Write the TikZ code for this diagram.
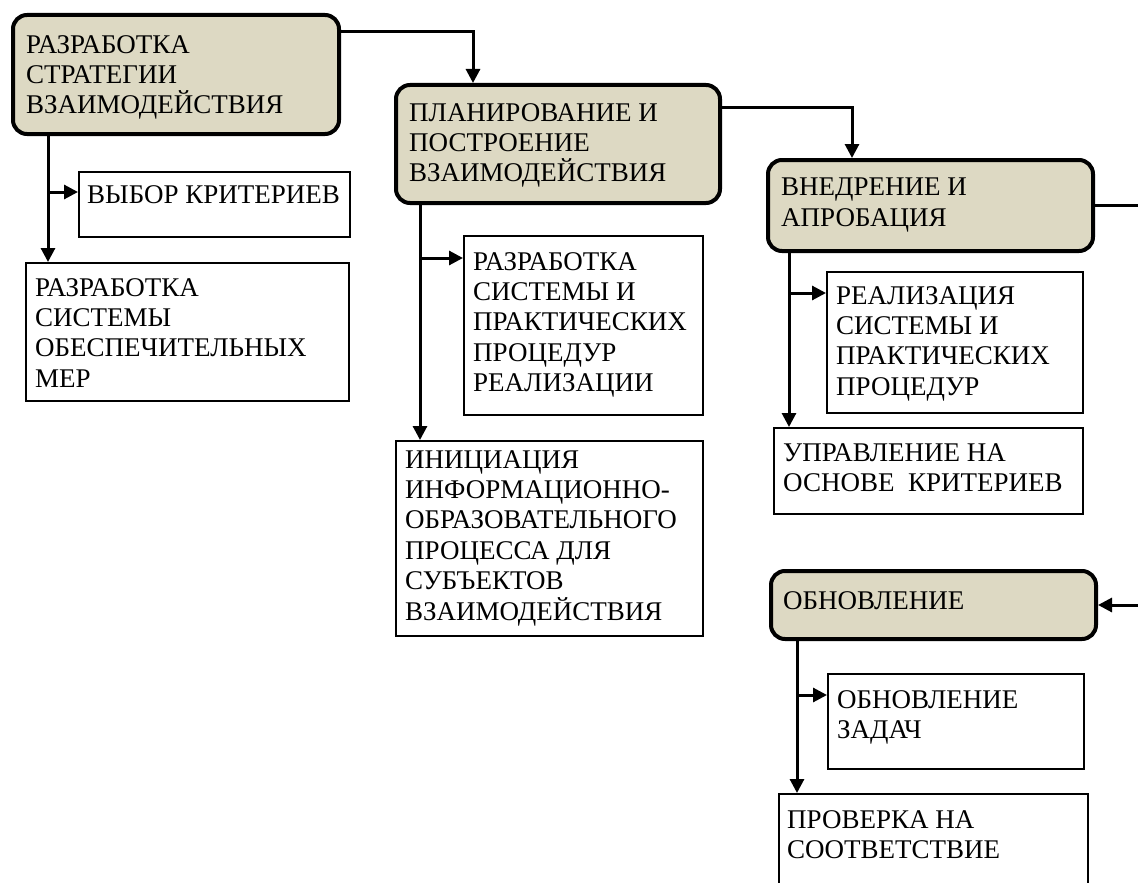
\documentclass[tikz,border=0pt]{standalone}
\usepackage{fontspec}
\setmainfont{Liberation Serif}
\usetikzlibrary{arrows.meta}
\definecolor{stagefill}{HTML}{DDD9C3}
\tikzset{
  stage/.style={draw=black, fill=stagefill, line width=4pt, rounded corners=14pt, inner sep=0pt, anchor=north west},
  task/.style={draw=black, fill=white, line width=1.8pt, inner sep=0pt, anchor=north west},
  txt/.style={anchor=north west, inner sep=0pt, align=left, font=\fontsize{27}{30.4}\selectfont},
  conn/.style={line width=3pt, -{Triangle[length=14pt,width=14pt]}},
  plain/.style={line width=3pt}
}
\begin{document}
\begin{tikzpicture}[x=1pt,y=-1pt]
\useasboundingbox (0,0) rectangle (1138,883);
% stage boxes
\node[stage, minimum width=326pt, minimum height=119pt] (b1) at (11,13) {};
\node[stage, minimum width=324pt, minimum height=118pt] (b2) at (394,83) {};
\node[stage, minimum width=325pt, minimum height=91pt] (b3) at (766,158) {};
\node[stage, minimum width=325pt, minimum height=68pt] (b4) at (769,569) {};
% task boxes
\node[task, minimum width=271pt, minimum height=65pt] (vybor) at (78,171) {};
\node[task, minimum width=323pt, minimum height=138pt] (obesp) at (25,262) {};
\node[task, minimum width=239pt, minimum height=179pt] (razr) at (463,235) {};
\node[task, minimum width=307pt, minimum height=195pt] (inic) at (395,440) {};
\node[task, minimum width=256pt, minimum height=141pt] (realiz) at (826,271) {};
\node[task, minimum width=309pt, minimum height=86pt] (uprav) at (773,427) {};
\node[task, minimum width=256pt, minimum height=95pt] (zadach) at (827,673) {};
\node[task, minimum width=309pt, minimum height=96pt] (prov) at (778,793) {};
% texts
\node[txt] (b1t) at (26,35) {РАЗРАБОТКА\\СТРАТЕГИИ\\ВЗАИМОДЕЙСТВИЯ};
\node[txt] (b2t) at (409,103) {ПЛАНИРОВАНИЕ И\\ПОСТРОЕНИЕ\\ВЗАИМОДЕЙСТВИЯ};
\node[txt] (b3t) at (781,178) {ВНЕДРЕНИЕ И\\АПРОБАЦИЯ};
\node[txt] (b4t) at (783,591) {ОБНОВЛЕНИЕ};
\node[txt] (vybort) at (87,185) {ВЫБОР КРИТЕРИЕВ};
\node[txt] (obespt) at (35,278) {РАЗРАБОТКА\\СИСТЕМЫ\\ОБЕСПЕЧИТЕЛЬНЫХ\\МЕР};
\node[txt] (razrt) at (473,252) {РАЗРАБОТКА\\СИСТЕМЫ И\\ПРАКТИЧЕСКИХ\\ПРОЦЕДУР\\РЕАЛИЗАЦИИ};
\node[txt] (inict) at (405,450) {ИНИЦИАЦИЯ\\ИНФОРМАЦИОННО-\\ОБРАЗОВАТЕЛЬНОГО\\ПРОЦЕССА ДЛЯ\\СУБЪЕКТОВ\\ВЗАИМОДЕЙСТВИЯ};
\node[txt] (realizt) at (836,286) {РЕАЛИЗАЦИЯ\\СИСТЕМЫ И\\ПРАКТИЧЕСКИХ\\ПРОЦЕДУР};
\node[txt] (upravt) at (783,443) {УПРАВЛЕНИЕ НА\\ОСНОВЕ\ \ КРИТЕРИЕВ};
\node[txt] (zadacht) at (837,690) {ОБНОВЛЕНИЕ\\ЗАДАЧ};
\node[txt] (provt) at (787,810) {ПРОВЕРКА НА\\СООТВЕТСТВИЕ};
% junction coordinates
\coordinate (t1) at (473,32);
\coordinate (t2) at (852,107);
\coordinate (e1) at (1138,0);
\coordinate (j1) at (48,192);
\coordinate (j2) at (420,258);
\coordinate (j3) at (789,293);
\coordinate (j4) at (797,695);
% main flow
\draw[conn] (b1.east |- t1) -| (b2.north -| t1);
\draw[conn] (b2.east |- t2) -| (b3.north -| t2);
\draw[plain] (b3.east) -- (b3.east -| e1);
\draw[conn] (e1 |- b4.east) -- (b4.east);
% branches
\draw[conn] (b1.south -| j1) -- (obesp.north -| j1);
\draw[conn] (j1) -- (j1 -| vybor.west);
\draw[conn] (b2.south -| j2) -- (inic.north -| j2);
\draw[conn] (j2) -- (j2 -| razr.west);
\draw[conn] (b3.south -| j3) -- (uprav.north -| j3);
\draw[conn] (j3) -- (j3 -| realiz.west);
\draw[conn] (b4.south -| j4) -- (prov.north -| j4);
\draw[conn] (j4) -- (j4 -| zadach.west);
\end{tikzpicture}
\end{document}
